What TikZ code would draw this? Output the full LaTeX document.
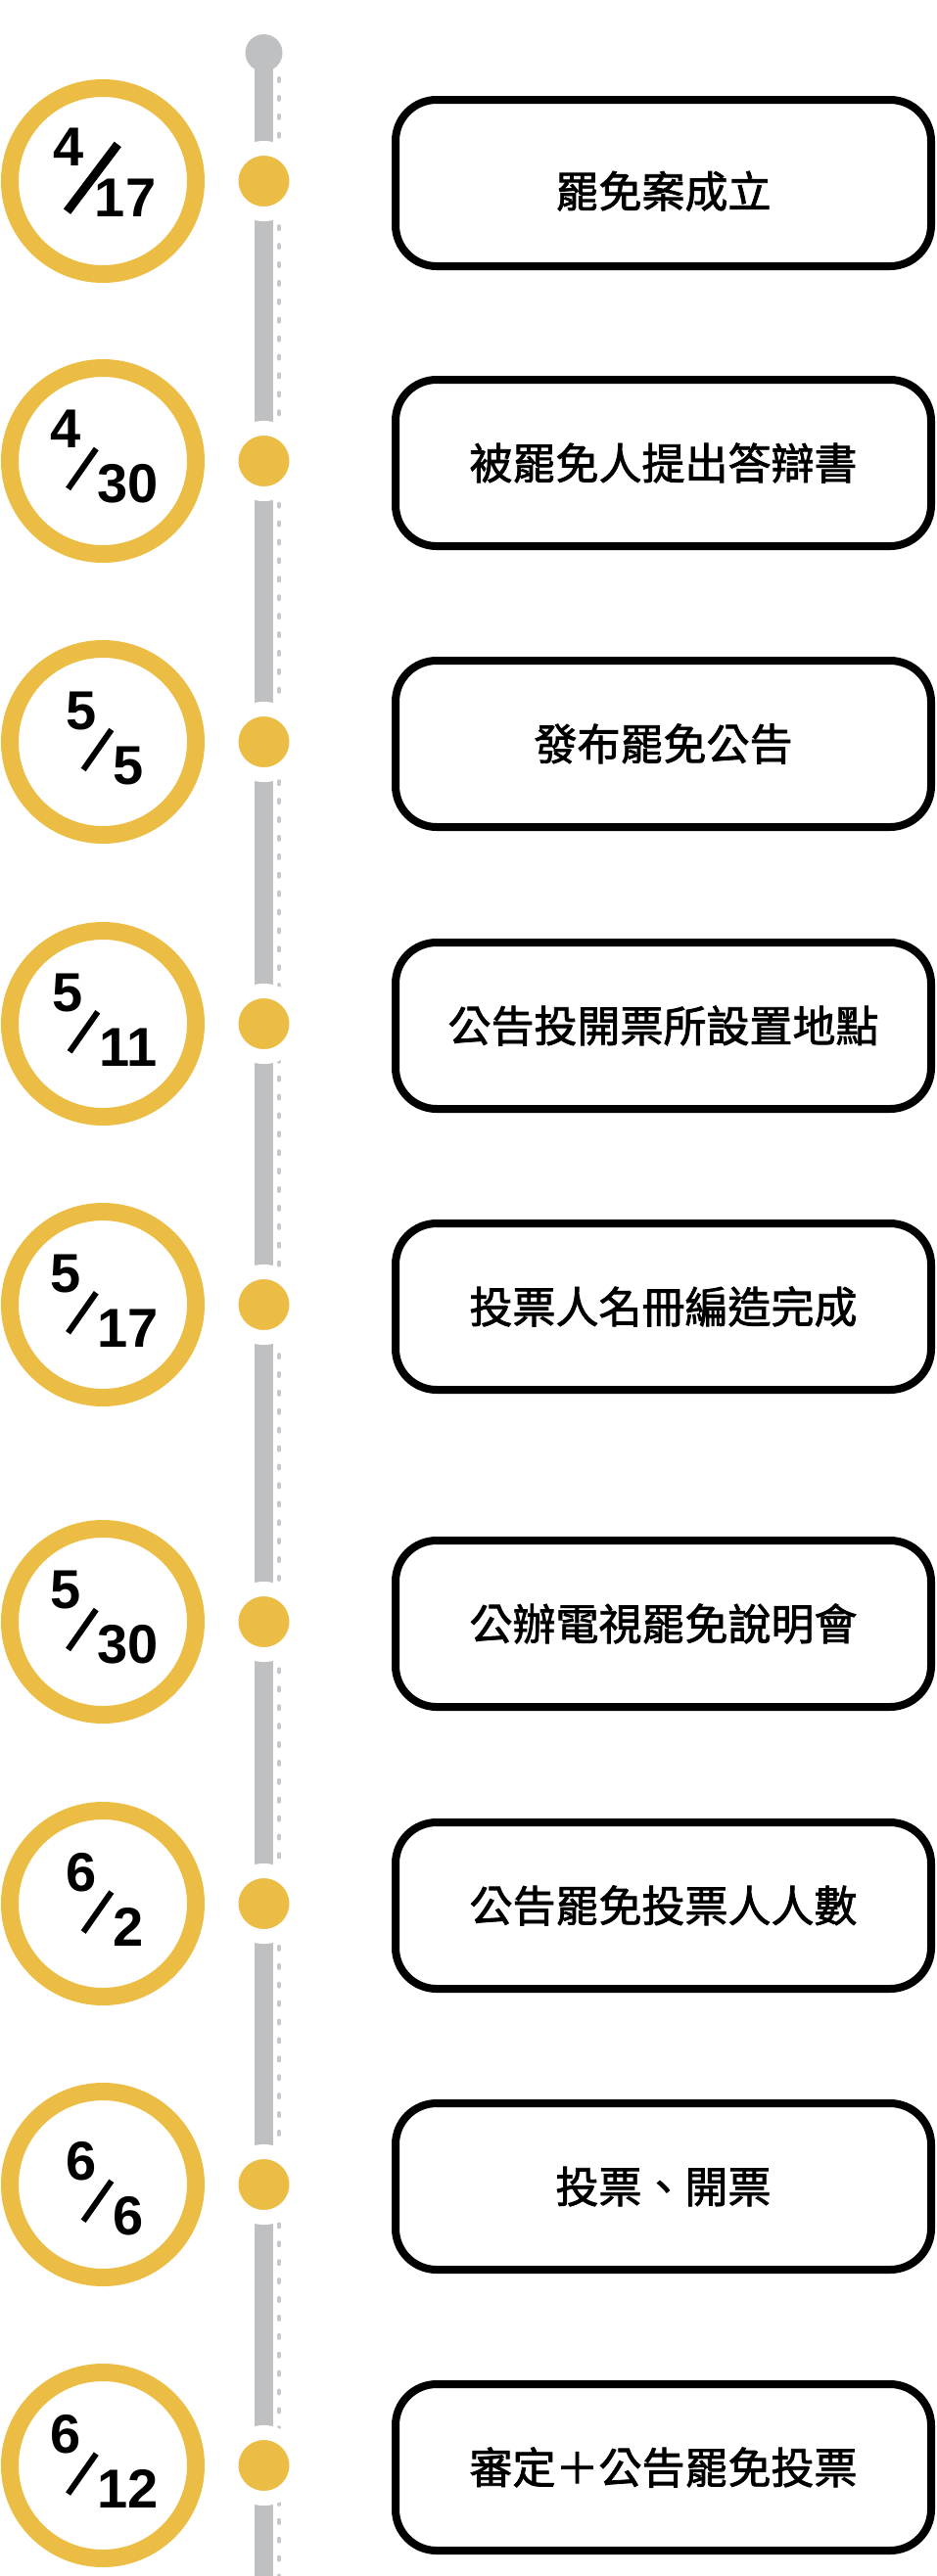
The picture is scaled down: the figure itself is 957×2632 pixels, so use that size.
\documentclass[tikz,border=0pt]{standalone}
\usepackage{fontspec}
\usepackage{graphicx}
\newfontfamily\cjkfont{Noto Sans CJK TC}[FakeBold=1.8]
\newfontfamily\datefont{Liberation Sans}
\usetikzlibrary{positioning}
\definecolor{markYellow}{HTML}{ECBD45}
\definecolor{railGray}{HTML}{BFC0C2}
\definecolor{dashGray}{HTML}{C6C7C9}

% month raised, day lowered, thin slash between
\newcommand{\datefrac}[2]{\raisebox{28pt}{#1}\kern-16pt\raisebox{7pt}{\rotatebox[origin=c]{-35}{\rule[-25pt]{6pt}{50pt}}}\kern-1pt\raisebox{-28pt}{#2}}

\begin{document}
\begin{tikzpicture}[x=1pt, y=-1pt,
    ring/.style={
      circle, draw=markYellow, line width=18pt,
      minimum size=190pt, inner sep=0pt
    },
    dot/.style={
      circle, fill=markYellow, draw=white, line width=15pt,
      minimum size=67pt, inner sep=0pt
    },
    eventbox/.style={
      rectangle, rounded corners=42pt,
      draw=black, fill=white, line width=8pt,
      minimum width=547pt, minimum height=170pt,
      font=\cjkfont\fontsize{44}{52}\selectfont,
      yshift=-2pt
    },
    datetext/.style={inner sep=0pt, font=\datefont\bfseries\fontsize{56}{60}\selectfont},
    rail/.style={draw=railGray, line width=19pt},
    raildash/.style={draw=dashGray, line width=4pt, line cap=round, dash pattern=on 3pt off 15.9pt}
  ]
    \useasboundingbox (0,0) rectangle (957,2632);

    % timeline
    \node[circle, fill=railGray, minimum size=38pt, inner sep=0pt] (knob) at (269.5,54) {};
    \coordinate (railend) at (269.5,2632);
    \coordinate (dashstart) at (285,80);
    \coordinate (dashend) at (285,2632);
    \draw[rail] (knob.center) -- (railend);
    \draw[raildash] (dashstart) -- (dashend);

    \node[dot] (d1) at (269.5,185) {};
    \node[ring, left=19.5pt of d1] (r1) {};
    \node[eventbox, right=89.5pt of d1] (e1) {\raisebox{-25pt}[0pt][0pt]{罷免案成立}};
    \node[datetext, xshift=2pt, yshift=9pt] (t1) at (r1) {\raisebox{26pt}{4}\kern-21pt\raisebox{13.5pt}{\rotatebox[origin=c]{-37}{\rule[-43pt]{9pt}{86pt}}}\kern-27pt\raisebox{-26pt}{17}};

    \node[dot] (d2) at (269.5,471) {};
    \node[ring, left=19.5pt of d2] (r2) {};
    \node[eventbox, right=89.5pt of d2] (e2) {被罷免人提出答辯書};
    \node[datetext, xshift=2pt, yshift=4pt] (t2) at (r2) {\datefrac{4}{30}};

    \node[dot] (d3) at (269.5,758) {};
    \node[ring, left=19.5pt of d3] (r3) {};
    \node[eventbox, right=89.5pt of d3] (e3) {發布罷免公告};
    \node[datetext, xshift=2pt, yshift=4pt] (t3) at (r3) {\datefrac{5}{5}};

    \node[dot] (d4) at (269.5,1046) {};
    \node[ring, left=19.5pt of d4] (r4) {};
    \node[eventbox, right=89.5pt of d4] (e4) {公告投開票所設置地點};
    \node[datetext, xshift=2pt, yshift=4pt] (t4) at (r4) {\datefrac{5}{11}};

    \node[dot] (d5) at (269.5,1333) {};
    \node[ring, left=19.5pt of d5] (r5) {};
    \node[eventbox, right=89.5pt of d5] (e5) {投票人名冊編造完成};
    \node[datetext, xshift=2pt, yshift=4pt] (t5) at (r5) {\datefrac{5}{17}};

    \node[dot] (d6) at (269.5,1657) {};
    \node[ring, left=19.5pt of d6] (r6) {};
    \node[eventbox, right=89.5pt of d6] (e6) {公辦電視罷免說明會};
    \node[datetext, xshift=2pt, yshift=4pt] (t6) at (r6) {\datefrac{5}{30}};

    \node[dot] (d7) at (269.5,1945) {};
    \node[ring, left=19.5pt of d7] (r7) {};
    \node[eventbox, right=89.5pt of d7] (e7) {公告罷免投票人人數};
    \node[datetext, xshift=2pt, yshift=4pt] (t7) at (r7) {\datefrac{6}{2}};

    \node[dot] (d8) at (269.5,2232) {};
    \node[ring, left=19.5pt of d8] (r8) {};
    \node[eventbox, right=89.5pt of d8] (e8) {投票、開票};
    \node[datetext, xshift=2pt, yshift=-4.5pt] (t8) at (r8) {\datefrac{6}{6}};

    \node[dot] (d9) at (269.5,2519) {};
    \node[ring, left=19.5pt of d9] (r9) {};
    \node[eventbox, right=89.5pt of d9] (e9) {審定＋公告罷免投票};
    \node[datetext, xshift=2pt, yshift=4pt] (t9) at (r9) {\datefrac{6}{12}};
  \end{tikzpicture}
\end{document}
